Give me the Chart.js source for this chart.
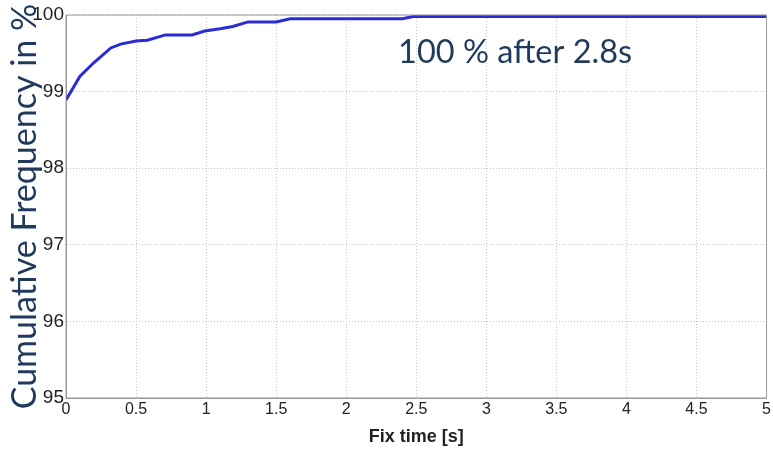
<!DOCTYPE html>
<html>
<head>
<meta charset="utf-8">
<script src="https://cdn.jsdelivr.net/npm/chart.js@4.4.1/dist/chart.umd.min.js"></script>
<style>
  html, body { margin: 0; padding: 0; background: #fff; }
  #wrap { width: 773px; height: 449px; }
</style>
</head>
<body>
<div id="wrap"><canvas id="cdf" width="773" height="449"></canvas></div>
<script>
// data
const fixTimes = [0, 0.1, 0.2, 0.32, 0.39, 0.5, 0.58, 0.71, 0.9, 0.99, 1.1, 1.19, 1.3, 1.5, 1.6, 2.0, 2.4, 2.48, 3.0, 4.0, 5.0];
const cumFreq  = [98.89, 99.2, 99.38, 99.57, 99.62, 99.66, 99.67, 99.74, 99.74, 99.79, 99.82, 99.85, 99.91, 99.91, 99.95, 99.95, 99.95, 99.98, 99.98, 99.98, 99.98];
const yTicks = [95, 96, 97, 98, 99, 100];
const noteText = '100 % after 2.8s';

const textBlue = '#1f3a5c';

// box + annotation
const extras = {
    id: 'extras',
    afterDraw(chart) {
        const {ctx, chartArea, scales} = chart;
        ctx.save();
        ctx.strokeStyle = '#9a9a9a';
        ctx.lineWidth = 1;
        ctx.strokeRect(chartArea.left, chartArea.top, chartArea.right - chartArea.left, chartArea.bottom - chartArea.top);

        ctx.fillStyle = textBlue;
        ctx.font = '32.5px Lato, "Open Sans", sans-serif';
        ctx.textBaseline = 'alphabetic';
        ctx.textAlign = 'left';
        ctx.fillText(noteText, scales.x.getPixelForValue(2.37), scales.y.getPixelForValue(99.37));
        ctx.restore();
    }
};

new Chart(document.getElementById('cdf'), {
    type: 'line',
    data: {
        datasets: [{
            data: fixTimes.map((t, i) => ({x: t, y: cumFreq[i]})),
            borderColor: '#2b2bd6',
            borderWidth: 3,
            pointRadius: 0,
            tension: 0,
            fill: false
        }]
    },
    options: {
        responsive: false,
        animation: false,
        layout: { padding: { top: 15, right: 5, left: 0, bottom: 0 } },
        plugins: { legend: { display: false }, tooltip: { enabled: false } },
        scales: {
            x: {
                type: 'linear',
                min: 0,
                max: 5,
                ticks: {
                    stepSize: 0.5,
                    color: '#222',
                    padding: 2,
                    font: { family: '"Liberation Sans", Arial, sans-serif', size: 16 },
                    callback: (v) => String(v)
                },
                grid: { color: '#c4c4c4', drawTicks: false },
                border: { color: '#9a9a9a', dash: [1, 2] },
                title: {
                    display: true,
                    text: 'Fix time [s]',
                    color: '#222',
                    font: { family: '"Liberation Sans", Arial, sans-serif', size: 18, weight: 'bold', lineHeight: 1.2 },
                    padding: { top: 0, bottom: 1 }
                },
                afterFit: (scale) => { scale.height = 51; }
            },
            y: {
                min: 95,
                max: 100,
                afterBuildTicks: (scale) => { scale.ticks = yTicks.map(v => ({value: v})); },
                ticks: {
                    color: '#222',
                    padding: 2,
                    font: { family: '"Liberation Sans", Arial, sans-serif', size: 19 }
                },
                grid: { color: '#c4c4c4', drawTicks: false },
                border: { color: '#9a9a9a', dash: [1, 2] },
                title: {
                    display: true,
                    text: 'Cumulative Frequency in %',
                    color: textBlue,
                    font: { family: 'Lato, "Open Sans", sans-serif', size: 34, lineHeight: 1 },
                    padding: { top: 8, bottom: 0 }
                },
                afterFit: (scale) => { scale.width = 66; }
            }
        }
    },
    plugins: [extras]
});
</script>
</body>
</html>
